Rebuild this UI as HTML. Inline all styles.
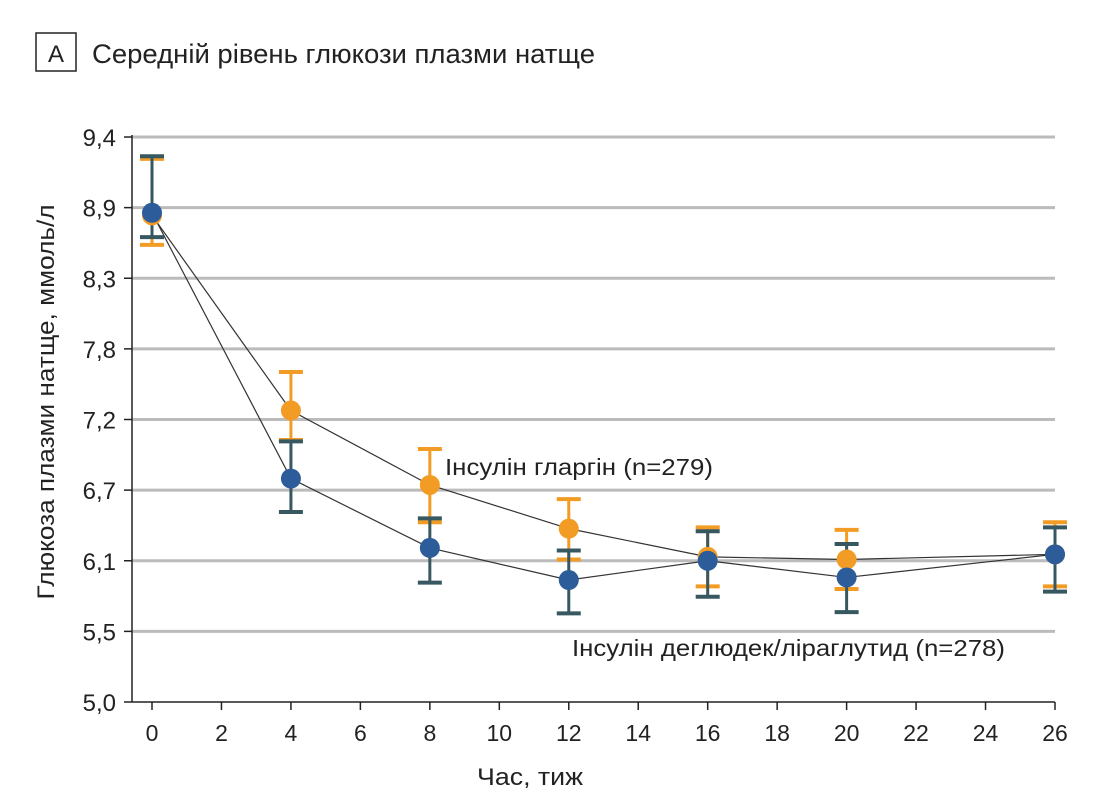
<!DOCTYPE html>
<html><head><meta charset="utf-8"><style>
body{margin:0;background:#fff;width:1119px;height:798px;overflow:hidden;font-family:"Liberation Sans",sans-serif;}
</style></head><body>
<svg id="chart" width="1119" height="798" xmlns="http://www.w3.org/2000/svg" font-family="Liberation Sans, sans-serif">
<rect x="36" y="33" width="40" height="38" fill="none" stroke="#222" stroke-width="1.5"/>
<text x="56" y="62" font-size="24" text-anchor="middle" fill="#222">А</text>
<text x="92" y="63" font-size="27" textLength="503" lengthAdjust="spacingAndGlyphs" fill="#222">Середній рівень глюкози плазми натще</text>
<g id="grid"></g><g id="axes"></g><g id="series"></g>
<text transform="translate(54,402) rotate(-90)" font-size="24" textLength="395" lengthAdjust="spacingAndGlyphs" text-anchor="middle" fill="#222">Глюкоза плазми натще, ммоль/л</text>
<text x="530" y="785" font-size="24" textLength="106" lengthAdjust="spacingAndGlyphs" text-anchor="middle" fill="#222">Час, тиж</text>
<text x="445" y="475" font-size="23" textLength="268" lengthAdjust="spacingAndGlyphs" fill="#222">Інсулін гларгін (n=279)</text>
<text x="572" y="656" font-size="23" textLength="433" lengthAdjust="spacingAndGlyphs" fill="#222">Інсулін деглюдек/ліраглутид (n=278)</text>
</svg>
<script>
const yTickLabels=["5,0","5,5","6,1","6,7","7,2","7,8","8,3","8,9","9,4"];
const xTicks=[0,2,4,6,8,10,12,14,16,18,20,22,24,26];
const weeks=[0,4,8,12,16,20,26];
const glargine=[8.79,7.27,6.69,6.35,6.13,6.11,6.15];
const glargineErrUp=[0.44,0.30,0.28,0.23,0.23,0.23,0.25];
const glargineErrDown=[0.23,0.23,0.29,0.24,0.23,0.23,0.25];
const degludec=[8.81,6.74,6.20,5.95,6.10,5.97,6.15];
const degludecErrUp=[0.44,0.29,0.23,0.23,0.23,0.26,0.21];
const degludecErrDown=[0.19,0.26,0.27,0.26,0.28,0.27,0.29];
const ns="http://www.w3.org/2000/svg";
const X0=152,X1=1055,Y0=702,Y1=137,L=132;
const xs=v=>X0+(v-0)/26*(X1-X0);
const ys=v=>Y0-(v-5.0)/4.4*(Y0-Y1);
function mk(t,a,p){const e=document.createElementNS(ns,t);for(const k in a)e.setAttribute(k,a[k]);(p||document.getElementById('chart')).appendChild(e);return e;}
const grid=document.getElementById('grid'),axes=document.getElementById('axes'),ser=document.getElementById('series');
yTickLabels.forEach((lab,i)=>{const y=Y0-i*(Y0-Y1)/8;
 if(i>0){const g=mk('line',{x1:L,x2:X1,y1:y,y2:y,stroke:'#bbb','stroke-width':3},grid);
 
 }
 mk('line',{x1:L-8,x2:L,y1:y,y2:y,stroke:'#222','stroke-width':1.5},axes);
 const t=mk('text',{x:L-16,y:y+9,'font-size':24,'text-anchor':'end',fill:'#222'},axes);t.textContent=lab;
 
 
});
mk('line',{x1:L,x2:L,y1:Y1-2,y2:Y0,stroke:'#222','stroke-width':1.5},axes);
mk('line',{x1:L,x2:X1,y1:Y0,y2:Y0,stroke:'#222','stroke-width':1.5},axes);
xTicks.forEach(v=>{const x=xs(v);mk('line',{x1:x,x2:x,y1:Y0,y2:Y0+8,stroke:'#222','stroke-width':1.5},axes);
 const t=mk('text',{x:x,y:Y0+39,'font-size':23,'text-anchor':'middle',fill:'#222'},axes);t.textContent=v;
 
 });
function series(vals,up,down,color,barColor,name){
 const pl=mk('polyline',{points:weeks.map((w,i)=>xs(w)+','+ys(vals[i])).join(' '),fill:'none',stroke:'#333','stroke-width':1.2},ser);
 
 
 weeks.forEach((w,i)=>{const x=xs(w),a=ys(vals[i]+up[i]),b=ys(vals[i]-down[i]);
  const g=mk('g',{},ser);
  
  
  mk('line',{x1:x,x2:x,y1:a,y2:b,stroke:barColor,'stroke-width':3},g);
  mk('line',{x1:x-12,x2:x+12,y1:a,y2:a,stroke:barColor,'stroke-width':4},g);
  mk('line',{x1:x-12,x2:x+12,y1:b,y2:b,stroke:barColor,'stroke-width':4},g);
 });
}
series(glargine,glargineErrUp,glargineErrDown,'#f39c25','#f39c25','glargine');
series(degludec,degludecErrUp,degludecErrDown,'#2c5c9a','#375860','degludec');
weeks.forEach((w,i)=>{const c=mk('circle',{cx:xs(w),cy:ys(glargine[i]),r:10,fill:'#f39c25'},ser);
 
 });
weeks.forEach((w,i)=>{const c=mk('circle',{cx:xs(w),cy:ys(degludec[i]),r:10,fill:'#2c5c9a'},ser);
 
 });
</script>
</body></html>
